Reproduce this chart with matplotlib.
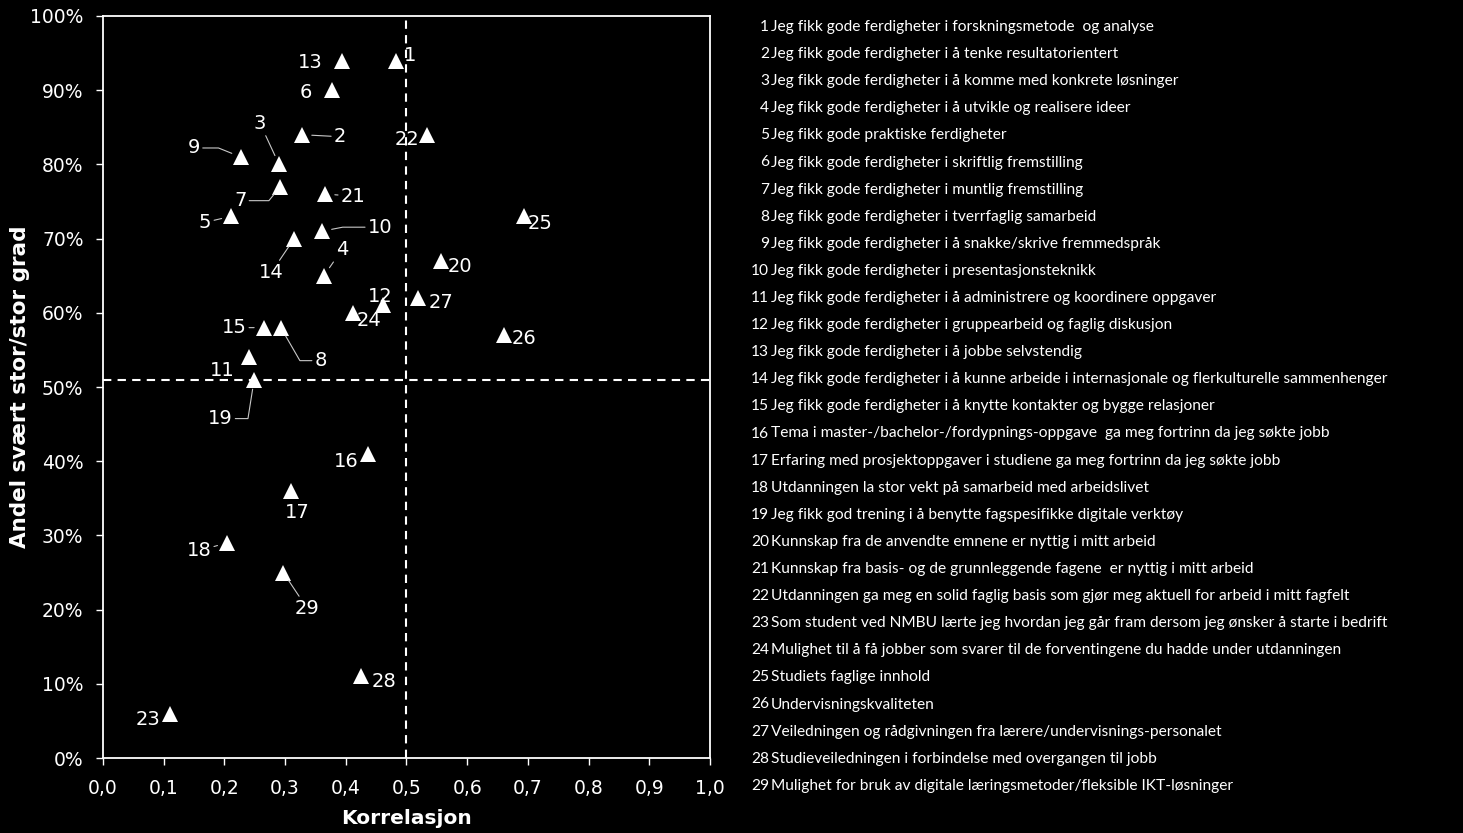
import matplotlib
matplotlib.use("Agg")
import matplotlib.pyplot as plt
from matplotlib.ticker import FuncFormatter, MultipleLocator

# Data
item_nr = list(range(1, 30))
korrelasjon = [0.483, 0.328, 0.290, 0.364, 0.211, 0.377, 0.292, 0.293, 0.227, 0.361,
               0.241, 0.461, 0.394, 0.315, 0.265, 0.437, 0.310, 0.204, 0.249, 0.557,
               0.366, 0.534, 0.110, 0.412, 0.694, 0.661, 0.519, 0.425, 0.297]
andel = [0.94, 0.84, 0.80, 0.65, 0.73, 0.90, 0.77, 0.58, 0.81, 0.71,
         0.54, 0.61, 0.94, 0.70, 0.58, 0.41, 0.36, 0.29, 0.51, 0.67,
         0.76, 0.84, 0.06, 0.60, 0.73, 0.57, 0.62, 0.11, 0.25]
ref_x = 0.5
ref_y = 0.51

beskrivelser = [
    "Jeg fikk gode ferdigheter i forskningsmetode  og analyse",
    "Jeg fikk gode ferdigheter i å tenke resultatorientert",
    "Jeg fikk gode ferdigheter i å komme med konkrete løsninger",
    "Jeg fikk gode ferdigheter i å utvikle og realisere ideer",
    "Jeg fikk gode praktiske ferdigheter",
    "Jeg fikk gode ferdigheter i skriftlig fremstilling",
    "Jeg fikk gode ferdigheter i muntlig fremstilling",
    "Jeg fikk gode ferdigheter i tverrfaglig samarbeid",
    "Jeg fikk gode ferdigheter i å snakke/skrive fremmedspråk",
    "Jeg fikk gode ferdigheter i presentasjonsteknikk",
    "Jeg fikk gode ferdigheter i å administrere og koordinere oppgaver",
    "Jeg fikk gode ferdigheter i gruppearbeid og faglig diskusjon",
    "Jeg fikk gode ferdigheter i å jobbe selvstendig",
    "Jeg fikk gode ferdigheter i å kunne arbeide i internasjonale og flerkulturelle sammenhenger",
    "Jeg fikk gode ferdigheter i å knytte kontakter og bygge relasjoner",
    "Tema i master-/bachelor-/fordypnings-oppgave  ga meg fortrinn da jeg søkte jobb",
    "Erfaring med prosjektoppgaver i studiene ga meg fortrinn da jeg søkte jobb",
    "Utdanningen la stor vekt på samarbeid med arbeidslivet",
    "Jeg fikk god trening i å benytte fagspesifikke digitale verktøy",
    "Kunnskap fra de anvendte emnene er nyttig i mitt arbeid",
    "Kunnskap fra basis- og de grunnleggende fagene  er nyttig i mitt arbeid",
    "Utdanningen ga meg en solid faglig basis som gjør meg aktuell for arbeid i mitt fagfelt",
    "Som student ved NMBU lærte jeg hvordan jeg går fram dersom jeg ønsker å starte i bedrift",
    "Mulighet til å få jobber som svarer til de forventingene du hadde under utdanningen",
    "Studiets faglige innhold",
    "Undervisningskvaliteten",
    "Veiledningen og rådgivningen fra lærere/undervisnings-personalet",
    "Studieveiledningen i forbindelse med overgangen til jobb",
    "Mulighet for bruk av digitale læringsmetoder/fleksible IKT-løsninger",
]

# label placement (offset in pixels) and leader line shape
label_offset = {
    1: (14, 5), 2: (38, -2), 3: (-19, 41), 4: (18, 26), 5: (-26, -6), 6: (-26, -2),
    7: (-40, -14), 8: (40, -33), 9: (-47, 9), 10: (58, 4), 11: (-27, -13), 12: (-3, 9),
    13: (-32, -2), 14: (-23, -34), 15: (-30, 0), 16: (-22, -8), 17: (6, -22), 18: (-28, -8),
    19: (-34, -39), 20: (19, -6), 21: (28, -2), 22: (-20, -5), 23: (-22, -6), 24: (16, -8),
    25: (16, -7), 26: (20, -3), 27: (23, -5), 28: (23, -5), 29: (24, -36),
}
leader = {2: "arc3", 3: "arc3", 4: "arc3", 5: "arc3", 14: "arc3", 15: "arc3", 18: "arc3",
          21: "arc3", 29: "arc3",
          9: "angle,angleA=0,angleB=-22,rad=0",
          7: "angle,angleA=0,angleB=51,rad=0",
          10: "angle,angleA=0,angleB=11,rad=0",
          19: "angle,angleA=0,angleB=81,rad=0",
          8: "angle,angleA=0,angleB=120,rad=0"}

fig = plt.figure(figsize=(14.63, 8.33), dpi=100, facecolor="black")
ax = fig.add_axes([0.0704, 0.090, 0.4149, 0.8908], facecolor="black")

ax.plot(korrelasjon, andel, linestyle="none", marker="^", markersize=11,
        color="white", markeredgewidth=0, zorder=3)

ax.axvline(ref_x, color="white", linestyle=(0, (4, 3)), linewidth=1.5, zorder=2)
ax.axhline(ref_y, color="white", linestyle=(0, (4, 3)), linewidth=1.5, zorder=2)

for n, x, y in zip(item_nr, korrelasjon, andel):
    dx, dy = label_offset[n]
    arrow = None
    if n in leader:
        arrow = dict(arrowstyle="-", color="#c8c8c8", lw=0.8,
                     connectionstyle=leader[n], shrinkA=0, shrinkB=7)
    ax.annotate(str(n), (x, y), xytext=(dx, dy), textcoords="offset pixels",
                ha="center", va="center", color="white", fontsize=14,
                fontfamily="DejaVu Sans", arrowprops=arrow, zorder=4)

ax.set_xlim(0, 1.0)
ax.set_ylim(0, 1.0)
ax.xaxis.set_major_locator(MultipleLocator(0.1))
ax.yaxis.set_major_locator(MultipleLocator(0.1))
ax.xaxis.set_major_formatter(FuncFormatter(lambda v, p: f"{v:.1f}".replace(".", ",")))
ax.yaxis.set_major_formatter(FuncFormatter(lambda v, p: f"{v*100:.0f}%"))
ax.tick_params(colors="white", labelcolor="white", labelsize=13.5, direction="out",
               length=5, width=1)
ax.tick_params(axis="y", pad=9)
ax.tick_params(axis="x", pad=10)
for s in ax.spines.values():
    s.set_color("white")
    s.set_linewidth(1.3)

ax.set_xlabel("Korrelasjon", color="white", fontsize=14.5, fontweight="bold", labelpad=8)
ax.set_ylabel("Andel svært stor/stor grad", color="white", fontsize=15.5,
              fontweight="bold", labelpad=0)

# numbered list on the right
y0 = 1 - 27 / 833
step = 27.1 / 833
for i, (n, txt) in enumerate(zip(item_nr, beskrivelser)):
    yy = y0 - i * step
    fig.text(769 / 1463, yy, str(n), ha="right", va="center", color="white",
             fontsize=11.2, fontfamily="Lato")
    fig.text(771 / 1463, yy, txt, ha="left", va="center", color="white",
             fontsize=11.2, fontfamily="Lato")

fig.savefig("out.png", dpi=100, facecolor="black")
